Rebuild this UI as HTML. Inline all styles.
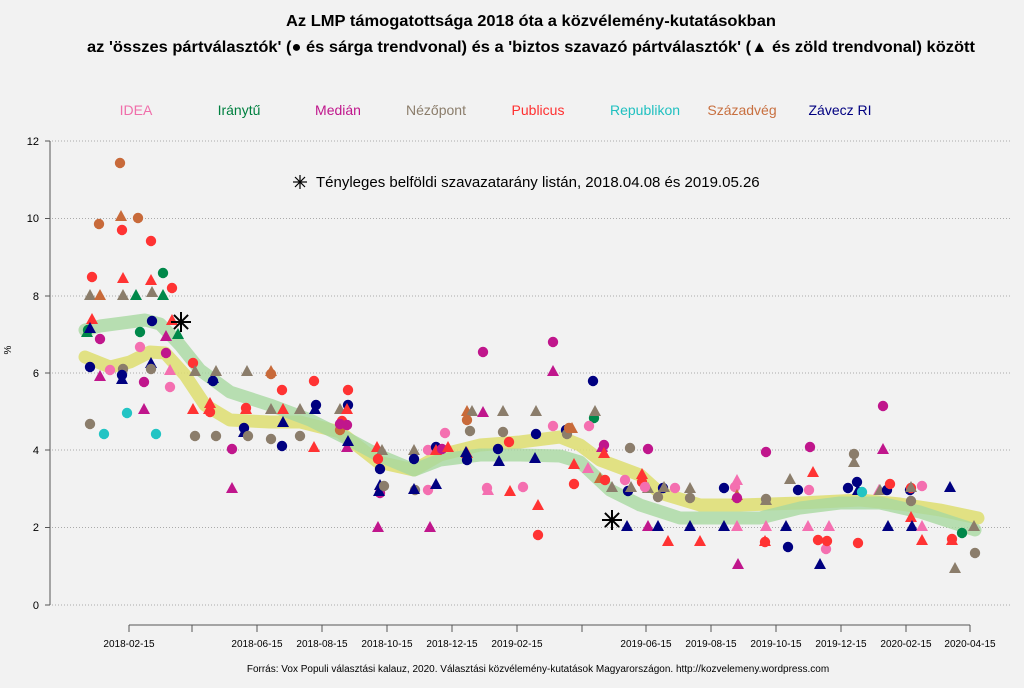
<!DOCTYPE html>
<html><head><meta charset="utf-8"><style>
html,body{margin:0;padding:0;background:#f2f2f2;}
svg{display:block;font-family:"Liberation Sans",sans-serif;}
</style></head><body>
<svg id="s" width="1024" height="688" viewBox="0 0 1024 688">
<rect width="1024" height="688" fill="#f2f2f2"/>
<text x="531" y="26" text-anchor="middle" font-size="16" font-weight="bold" textLength="490" lengthAdjust="spacingAndGlyphs">Az LMP támogatottsága 2018 óta a közvélemény-kutatásokban</text>
<text x="531" y="52" text-anchor="middle" font-size="16" font-weight="bold" textLength="888" lengthAdjust="spacingAndGlyphs">az 'összes pártválasztók' (● és sárga trendvonal) és a 'biztos szavazó pártválasztók' (▲ és zöld trendvonal) között</text>
<g font-size="14" text-anchor="middle">
<text x="136" y="115" fill="#f06eaa">IDEA</text>
<text x="239" y="115" fill="#008040">Iránytű</text>
<text x="338" y="115" fill="#c0168c">Medián</text>
<text x="436" y="115" fill="#8b7d6b">Nézőpont</text>
<text x="538" y="115" fill="#ff3030">Publicus</text>
<text x="645" y="115" fill="#20c0c0">Republikon</text>
<text x="742" y="115" fill="#c87040">Századvég</text>
<text x="840" y="115" fill="#000080">Závecz RI</text>
</g>
<g stroke="#aaa" stroke-dasharray="1,2" stroke-width="1">
<line x1="52" y1="141" x2="1010" y2="141"/><line x1="52" y1="218.5" x2="1010" y2="218.5"/>
<line x1="52" y1="296" x2="1010" y2="296"/><line x1="52" y1="373" x2="1010" y2="373"/>
<line x1="52" y1="450" x2="1010" y2="450"/><line x1="52" y1="527.5" x2="1010" y2="527.5"/>
<line x1="52" y1="605" x2="1010" y2="605"/>
</g>
<g stroke="#555" stroke-width="1">
<line x1="50" y1="141" x2="50" y2="605"/>
<line x1="45" y1="141" x2="50" y2="141"/><line x1="45" y1="218.5" x2="50" y2="218.5"/>
<line x1="45" y1="296" x2="50" y2="296"/><line x1="45" y1="373" x2="50" y2="373"/>
<line x1="45" y1="450" x2="50" y2="450"/><line x1="45" y1="527.5" x2="50" y2="527.5"/>
<line x1="45" y1="605" x2="50" y2="605"/>
<line x1="129" y1="625" x2="970" y2="625"/>
</g>
<g font-size="11" text-anchor="end">
<text x="39" y="145">12</text><text x="39" y="222">10</text><text x="39" y="300">8</text>
<text x="39" y="377">6</text><text x="39" y="454">4</text><text x="39" y="531">2</text><text x="39" y="609">0</text>
</g>
<text x="11" y="350" font-size="10" transform="rotate(-90 11 350)" text-anchor="middle">%</text>
<g id="xt" stroke="#555"></g>
<g id="xl" font-size="10" text-anchor="middle"></g>
<text x="538" y="672" font-size="10" text-anchor="middle">Forrás: Vox Populi választási kalauz, 2020. Választási közvélemény-kutatások Magyarországon. http://kozvelemeny.wordpress.com</text>
<polyline fill="none" stroke="#dede70" stroke-opacity="0.85" stroke-width="13" stroke-linejoin="round" stroke-linecap="round" points="85,357 110,367 130,362 150,352 165,353 185,375 205,405 230,420 270,422 300,422 340,432 378,462 414,470 440,455 480,445 520,442 560,437 580,445 600,460 640,475 660,493 700,505 740,505 800,503 860,500 900,504 940,510 978,518"/>
<polyline fill="none" stroke="#a8d8a0" stroke-opacity="0.8" stroke-width="13" stroke-linejoin="round" stroke-linecap="round" points="85,330 100,326 145,320 160,324 180,345 200,370 230,392 270,405 310,420 350,440 378,455 414,470 440,460 480,455 520,455 560,456 580,462 610,490 640,505 680,518 720,518 760,518 800,508 840,503 880,503 920,512 975,530"/>
<g id="pts"></g>
<g stroke="#000" stroke-width="2" id="stars"></g>
<g stroke="#000" stroke-width="1.2"><line x1="293" y1="182" x2="307" y2="182"/><line x1="300" y1="175" x2="300" y2="189"/><line x1="295" y1="177" x2="305" y2="187"/><line x1="305" y1="177" x2="295" y2="187"/></g>
<text x="316" y="187" font-size="15">Tényleges belföldi szavazatarány listán, 2018.04.08 és 2019.05.26</text>
</svg>
<script>
var NS="http://www.w3.org/2000/svg";
function el(p,t,a){var e=document.createElementNS(NS,t);for(var k in a)e.setAttribute(k,a[k]);p.appendChild(e);return e;}
var xt=document.getElementById("xt"),xl=document.getElementById("xl");
var tx=[129,192,257,322,387,452,517,582,646,711,776,841,906,970];
var lab=["2018-02-15","","2018-06-15","2018-08-15","2018-10-15","2018-12-15","2019-02-15","","2019-06-15","2019-08-15","2019-10-15","2019-12-15","2020-02-15","2020-04-15"];
tx.forEach(function(x,i){el(xt,"line",{x1:x,y1:625,x2:x,y2:632});if(lab[i]){var t=el(xl,"text",{x:x,y:647});t.textContent=lab[i];}});
var C={p:"#f46fb0",g:"#00884a",m:"#c0168c",n:"#8b7d6b",r:"#ff3333",c:"#22c4c4",o:"#c86a3a",z:"#000080"};
var P="87,332,g,t;88,330,g,c;90,367,z,c;90,424,n,c;92,277,r,c;90,295,n,t;100,295,o,t;92,319,r,t;90,328,z,t;100,339,m,c;100,376,m,t;99,224,o,c;104,434,c,c;110,370,p,c;120,163,o,c;122,230,r,c;121,216,o,t;123,278,r,t;123,295,n,t;123,369,n,c;122,375,z,c;122,379,z,t;127,413,c,c;136,295,g,t;138,218,o,c;140,332,g,c;140,347,p,c;144,382,m,c;144,409,m,t;151,241,r,c;151,280,r,t;152,292,n,t;152,321,z,c;151,363,z,t;151,369,n,c;156,434,c,c;163,273,g,c;163,295,g,t;166,336,m,t;166,353,m,c;170,387,p,c;170,370,p,t;172,288,r,c;172,320,r,t;178,334,g,t;193,363,r,c;195,371,n,t;193,409,r,t;195,436,n,c;209,409,r,t;210,412,r,c;210,403,r,t;213,381,z,c;213,378,z,t;216,436,n,c;216,371,n,t;232,449,m,c;232,488,m,t;246,408,r,c;246,409,r,t;247,371,n,t;244,428,z,c;244,432,z,t;248,436,n,c;271,371,o,t;271,374,o,c;271,439,n,c;271,409,n,t;282,390,r,c;282,446,z,c;283,422,z,t;283,409,r,t;300,409,n,t;300,436,n,c;314,381,r,c;314,447,r,t;316,405,z,c;315,409,z,t;340,409,n,t;342,421,r,c;340,430,o,c;340,424,m,c;348,390,r,c;348,405,z,c;347,409,r,t;347,425,m,c;347,447,m,t;348,441,z,t;377,447,r,t;382,450,n,t;378,459,r,c;380,469,z,c;380,485,z,t;380,493,m,c;379,491,z,t;378,527,m,t;384,486,n,c;414,450,n,t;414,459,z,c;415,490,n,c;414,489,z,t;428,490,p,c;430,527,m,t;436,484,z,t;428,450,p,c;436,447,z,c;445,433,p,c;436,450,r,t;442,449,m,c;448,447,r,t;467,411,o,t;472,411,n,t;483,412,m,t;467,420,o,c;470,431,n,c;483,352,m,c;467,453,r,t;467,460,z,c;466,452,z,t;488,490,p,t;487,488,p,c;503,411,n,t;503,432,n,c;498,449,z,c;499,461,z,t;509,442,r,c;510,491,r,t;523,487,p,c;536,411,n,t;536,434,z,c;535,458,z,t;538,505,r,t;538,535,r,c;553,342,m,c;553,371,m,t;553,426,p,c;566,430,z,c;567,434,n,c;569,428,o,c;572,428,o,t;593,381,z,c;594,418,g,c;595,411,n,t;589,426,p,c;604,445,m,c;602,447,m,t;604,453,r,t;574,464,r,t;574,484,r,c;588,468,p,t;600,478,o,t;605,480,r,c;612,487,n,t;625,480,p,c;628,491,z,c;631,487,n,t;630,448,n,c;648,449,m,c;642,474,r,t;642,482,r,c;648,488,n,t;627,526,z,t;648,526,m,t;658,526,z,t;645,487,p,c;658,497,n,c;663,488,z,c;664,487,n,t;675,488,p,c;668,541,r,t;690,526,z,t;690,488,n,t;690,498,n,c;700,541,r,t;724,488,z,c;735,487,p,c;737,495,o,t;737,480,p,t;737,498,m,c;737,526,p,t;724,526,z,t;738,564,m,t;766,452,m,c;766,499,n,c;766,500,n,t;766,526,p,t;765,541,r,t;765,542,r,c;788,547,z,c;790,479,n,t;786,526,z,t;798,490,z,c;809,490,p,c;808,526,p,t;810,447,m,c;813,472,r,t;818,540,r,c;826,549,p,c;829,526,p,t;827,541,r,c;820,564,z,t;848,488,z,c;854,454,n,c;854,462,n,t;858,543,r,c;857,482,z,c;858,490,z,t;862,492,c,c;883,406,m,c;883,449,m,t;879,490,p,t;880,490,n,t;887,490,z,c;890,484,r,c;888,526,z,t;910,490,z,c;911,488,r,c;911,487,n,t;922,486,p,c;911,501,n,c;911,517,r,t;912,526,z,t;922,526,p,t;922,540,r,t;950,487,z,t;952,539,r,c;952,540,r,t;955,568,n,t;962,533,g,c;974,526,n,t;975,553,n,c";
var g=document.getElementById("pts");
P.split(";").forEach(function(s){var a=s.split(","),x=+a[0],y=+a[1],c=C[a[2]];
if(a[3]=="c")el(g,"circle",{cx:x,cy:y,r:5.2,fill:c});
else el(g,"polygon",{points:(x-6)+","+(y+5)+" "+(x+6)+","+(y+5)+" "+x+","+(y-6),fill:c});});
var st=document.getElementById("stars");
[[181,322],[612,520]].forEach(function(p){var x=p[0],y=p[1],r=10;
for(var i=0;i<4;i++){var a=i*Math.PI/4;el(st,"line",{x1:x-r*Math.cos(a),y1:y-r*Math.sin(a),x2:x+r*Math.cos(a),y2:y+r*Math.sin(a)});}});
</script>
</body></html>
